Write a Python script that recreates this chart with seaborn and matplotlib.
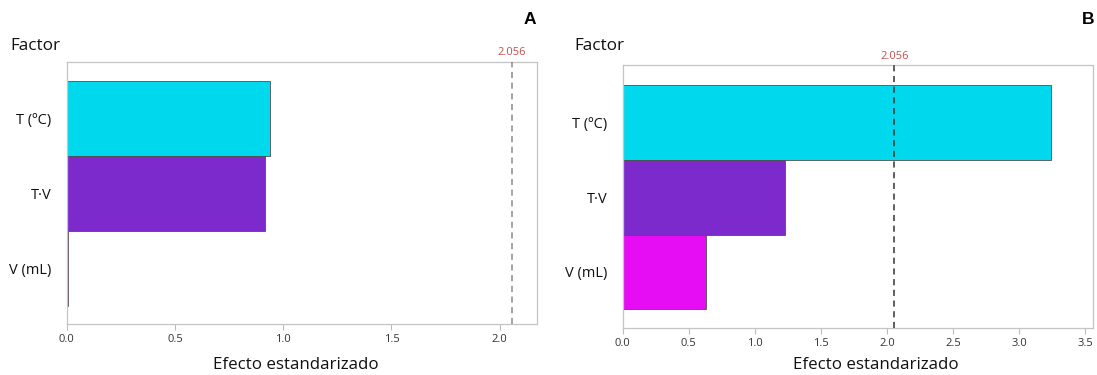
import matplotlib
matplotlib.use("Agg")
import matplotlib.pyplot as plt
import matplotlib.transforms as mtransforms
import seaborn as sns
import pandas as pd

# Standardized effects (Pareto chart), two responses
factors = ["T (ºC)", "T·V", "V (mL)"]
effects_a = [0.941, 0.916, 0.004]
effects_b = [3.241, 1.231, 0.627]
critical_value = 2.056
bar_colors = ["#00D8EE", "#7D2ACD", "#E60DF5"]
xticks_a = [0.0, 0.5, 1.0, 1.5, 2.0]
xticks_b = [0.0, 0.5, 1.0, 1.5, 2.0, 2.5, 3.0, 3.5]
panel_labels = ["A", "B"]

sns.set_theme(style="white")
plt.rcParams["font.family"] = ["Open Sans", "DejaVu Sans"]

fig = plt.figure(figsize=(10.97, 3.75), dpi=100)
ax_a = fig.add_axes([0.0608, 0.1347, 0.4290, 0.7008])
ax_b = fig.add_axes([0.5676, 0.1245, 0.4283, 0.7022])

palette = dict(zip(factors, bar_colors))


def pareto(ax, effects, xmax, xticks, ylim, line_color, label_x, factor_x, panel, panel_x):
    df = pd.DataFrame({"Factor": factors, "Efecto": effects})
    sns.barplot(data=df, x="Efecto", y="Factor", hue="Factor", palette=palette,
                order=factors, hue_order=factors, legend=False, width=1.0,
                edgecolor="#505050", linewidth=0.6, saturation=1.0, ax=ax)
    ax.set_xlim(0, xmax)
    ax.set_ylim(*ylim)
    ax.set_xticks(xticks)
    ax.set_xticklabels([f"{t:.1f}" for t in xticks], fontsize=8, color="#333333")
    ax.tick_params(axis="x", which="both", bottom=True, length=4, width=0.8,
                   color="#bbbbbb", pad=3)
    ax.tick_params(axis="y", length=0, pad=11, labelsize=10.5, labelcolor="#111111")
    for s in ax.spines.values():
        s.set_color("#c4c4c4")
        s.set_linewidth(0.9)
    ax.set_xlabel("")
    ax.set_ylabel("")
    ax.axvline(critical_value, color=line_color, linestyle=(0, (4, 3)), linewidth=1.1, zorder=5)
    trans = mtransforms.offset_copy(ax.get_xaxis_transform(), fig=fig, x=0, y=2.5, units="points")
    ax.text(critical_value, 1.0, f"{critical_value:.3f}", transform=trans,
            ha="center", va="bottom", fontsize=8, color="#c0504d")
    fig.text(label_x, 1 - 365 / 375, "Efecto estandarizado", ha="center", va="center",
             fontsize=12.2, color="#111111")
    fig.text(factor_x, 1 - 46 / 375, "Factor", ha="left", va="center",
             fontsize=12.3, color="#111111")
    fig.text(panel_x, 1 - 19 / 375, panel, ha="center", va="center", fontsize=12.5,
             fontweight="bold", family=["Liberation Sans", "DejaVu Sans"], color="#000000")


pareto(ax_a, effects_a, 2.174, xticks_a, (2.753, -0.753), "#8a8a8a",
       296 / 1097, 10 / 1097, panel_labels[0], 530 / 1097)
pareto(ax_b, effects_b, 3.556, xticks_b, (2.755, -0.768), "#333333",
       876 / 1097, 574 / 1097, panel_labels[1], 1088 / 1097)

fig.savefig("out.png", dpi=100, facecolor="white")
